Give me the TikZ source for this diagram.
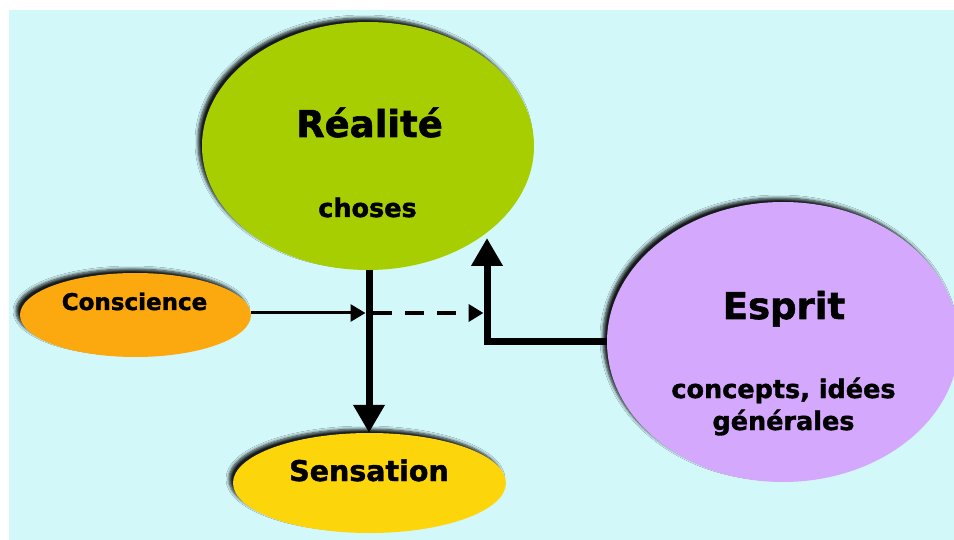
\documentclass[tikz,border=0pt]{standalone}
\usepackage{fontspec}
\setmainfont{DejaVu Sans}[BoldFeatures={FakeBold=1.5}]
\usetikzlibrary{shapes.geometric, arrows.meta, positioning, shadows.blur}

\definecolor{bgcyan}{HTML}{D3F8FA}
\definecolor{realgreen}{HTML}{A6CE00}
\definecolor{conscorange}{HTML}{FBA90F}
\definecolor{sensyellow}{HTML}{FCD50A}
\definecolor{espritpurple}{HTML}{D4A8FC}

\begin{document}
\begin{tikzpicture}[
        x=1pt, y=-1pt,
        blob/.style={ellipse, inner sep=0pt, blur shadow={shadow xshift=-4pt, shadow yshift=4pt, shadow blur radius=3pt, shadow blur steps=6, shadow opacity=90}},
        title/.style={anchor=base, font=\bfseries\fontsize{37}{42}\selectfont},
        sub/.style={anchor=base, font=\bfseries\fontsize{25.5}{30}\selectfont},
        big arrow/.style={-{Triangle[width=30pt,length=28pt]}, line width=7pt},
        small arrow/.style={-{Triangle[width=17pt,length=15pt]}}
    ]
        % Background
        \useasboundingbox (0,0) rectangle (954,540);
        \fill[bgcyan] (9,10) rectangle (954,540);

        % Nodes
        \node[blob, fill=realgreen, minimum width=332pt, minimum height=248pt] (realite) at (368,146) {};
        \node[blob, fill=conscorange, minimum width=231pt, minimum height=84pt] (conscience) at (135.5,315) {};
        \node[blob, fill=sensyellow, minimum width=273pt, minimum height=100pt] (sensation) at (369.5,483) {};
        \node[blob, fill=espritpurple, minimum width=352pt, minimum height=280pt] (esprit) at (783,342) {};

        % Texts
        \node[title] (realiteT) at (369.5,137) {Réalité};
        \node[sub] (realiteS) at (367.5,217) {choses};
        \node[title] (espritT) at (784,319) {Esprit};
        \node[sub] (espritS1) at (783.5,398) {concepts, idées};
        \node[sub] (espritS2) at (783.5,430) {générales};
        \node[sub, font=\bfseries\fontsize{23}{27}\selectfont] (conscienceT) at (134.5,310) {Conscience};
        \node[sub, font=\bfseries\fontsize{28.5}{33}\selectfont] (sensationT) at (369,481) {Sensation};

        % Helper points
        \coordinate (cross) at (369,313);
        \coordinate (joint) at (487,238);
        \coordinate (dashend) at (joint |- cross);

        % Arrows
        \draw[big arrow] (realite.south -| cross) -- (sensation.north -| cross);
        \draw[big arrow] (esprit.west) -| (joint);
        \draw[small arrow, line width=3pt, shorten >=3.5pt] (conscience.east |- cross) -- (cross);
        \draw[small arrow, line width=4pt, dash pattern=on 19pt off 13pt, shorten <=4pt, shorten >=3.5pt] (cross) -- (dashend);
    \end{tikzpicture}
\end{document}
